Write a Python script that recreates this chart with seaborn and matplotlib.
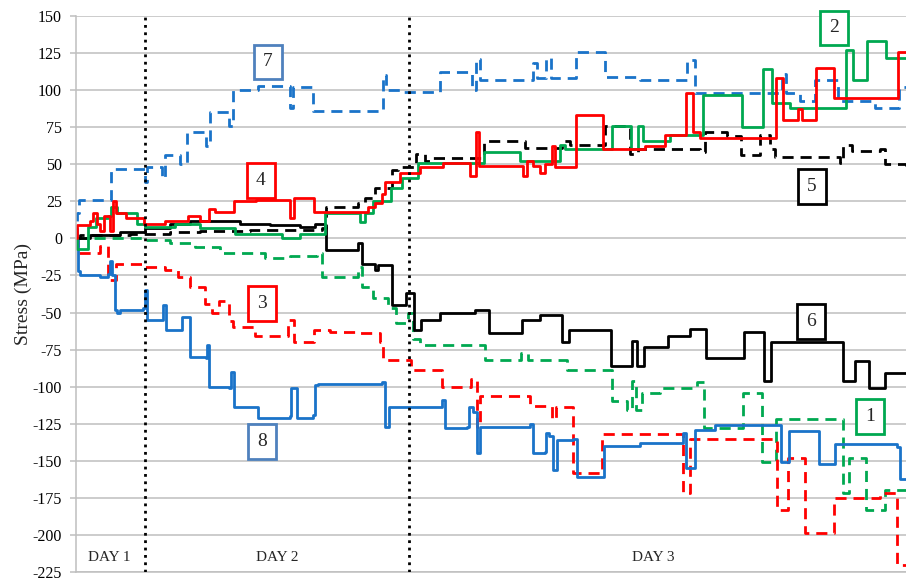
import matplotlib
matplotlib.use("Agg")
import matplotlib.pyplot as plt
import numpy as np
import pandas as pd
import seaborn as sns

# ---------------- data (time in arbitrary elapsed units, stress in MPa) ----------------
t1 = [0, 34, 69, 94, 119, 144, 189, 214, 241, 246, 282, 286, 297, 312, 320, 332, 337, 344, 409, 445,
      452, 491, 536, 551, 556, 560, 566, 584, 621, 628, 667, 686, 700, 767, 773, 790, 809, 830]
s1 = [0, 0, -1, -3, -6, -10, -13, -12, -10, -26, -19, -33, -40, -47, -57, -50, -68, -72, -82, -77,
      -82, -89, -110, -116, -96, -116, -104, -101, -97, -128, -104, -151, -122, -172, -148, -183, -170, -170]

t2 = [0, 1, 12, 20, 32, 35, 41, 61, 69, 99, 124, 159, 206, 224, 249, 284, 289, 297, 315, 326,
      342, 408, 444, 484, 489, 536, 555, 562, 567, 594, 627, 666, 687, 696, 714, 770, 777, 791, 810, 830]
s2 = [0, -7, 8, 14, 15, 21, 17, 10, 8, 10, 7, 3, 0, 3, 17, 11, 17, 25, 34, 41,
      51, 58, 52, 63, 60, 76, 60, 76, 66, 70, 97, 75, 114, 91, 88, 127, 107, 133, 122, 122]

t3 = [0, 2, 24, 32, 40, 67, 89, 102, 114, 129, 136, 143, 153, 157, 179, 212, 218, 238, 254, 279,
      304, 307, 335, 366, 395, 401, 404, 454, 476, 480, 497, 526, 607, 614, 701, 712, 729, 758, 804, 821, 830]
s3 = [0, -10, -5, -28, -17, -19, -21, -26, -33, -44, -50, -42, -56, -60, -66, -55, -70, -62, -63, -64,
      -70, -82, -89, -100, -95, -127, -106, -113, -122, -114, -158, -132, -172, -135, -183, -148, -199, -175, -172, -220, -220]

t4 = [0, 1, 14, 17, 21, 24, 28, 34, 37, 40, 50, 68, 89, 112, 124, 133, 139, 158, 180, 214,
      218, 238, 289, 292, 299, 306, 309, 324, 344, 367, 392, 394, 400, 403, 444, 447, 451, 457, 464, 469,
      476, 479, 498, 500, 527, 569, 589, 610, 617, 624, 700, 707, 722, 726, 740, 758, 822, 830]
s4 = [0, 9, 12, 17, 10, 5, 15, 5, 25, 17, 14, 10, 12, 15, 12, 20, 18, 25, 26, 14,
      27, 18, 18, 21, 24, 30, 38, 44, 48, 51, 51, 42, 72, 49, 49, 42, 52, 49, 44, 50,
      62, 48, 48, 83, 60, 62, 70, 98, 72, 68, 108, 80, 87, 80, 115, 95, 126, 126]

t5 = [0, 4, 54, 94, 124, 174, 246, 250, 282, 289, 299, 316, 322, 340, 349, 354, 408, 449, 486, 494,
      529, 554, 562, 624, 629, 651, 665, 684, 694, 699, 764, 767, 776, 804, 809, 830]
s5 = [0, 2, 3, 4, 5, 6, 7, 21, 24, 27, 34, 46, 48, 57, 52, 54, 66, 61, 66, 63,
      76, 57, 60, 58, 72, 69, 56, 70, 60, 55, 51, 63, 59, 60, 50, 49]

t6 = [0, 14, 44, 69, 94, 114, 139, 164, 194, 224, 239, 249, 250, 282, 286, 299, 302, 316, 330, 338,
      345, 364, 399, 413, 446, 464, 486, 493, 535, 556, 561, 568, 592, 614, 630, 668, 688, 695, 767, 779,
      793, 809, 830]
s6 = [0, 2, 4, 7, 10, 12, 12, 10, 9, 8, 10, 8, -8, -3, -17, -21, -18, -45, -37, -62,
      -55, -50, -48, -64, -55, -52, -70, -62, -86, -69, -86, -73, -66, -61, -81, -63, -96, -70, -96, -83,
      -101, -91, -91]

t7 = [0, 1, 3, 32, 35, 69, 71, 82, 86, 89, 102, 104, 111, 127, 130, 134, 150, 153, 157, 180,
      182, 212, 214, 217, 235, 237, 306, 307, 310, 324, 359, 364, 394, 396, 400, 404, 454, 457, 461, 470,
      475, 497, 500, 526, 529, 564, 609, 611, 617, 619, 704, 706, 710, 724, 739, 759, 762, 796, 799, 821,
      823, 830]
s7 = [0, 17, 26, 26, 47, 38, 48, 48, 41, 56, 56, 50, 72, 72, 62, 85, 85, 76, 100, 100,
      103, 103, 88, 102, 102, 86, 86, 110, 100, 99, 99, 112, 112, 100, 121, 107, 107, 118, 108, 122,
      108, 108, 126, 126, 109, 107, 107, 120, 120, 98, 98, 111, 98, 93, 107, 107, 93, 93, 88, 88,
      102, 102]

t8 = [0, 2, 4, 24, 32, 34, 36, 39, 41, 44, 67, 69, 71, 85, 87, 90, 104, 106, 111, 114,
      130, 131, 133, 153, 155, 158, 179, 182, 214, 215, 218, 221, 237, 239, 242, 306, 309, 313, 366, 369,
      391, 393, 397, 401, 404, 454, 457, 469, 470, 473, 477, 481, 497, 501, 526, 528, 564, 607, 610, 616,
      619, 639, 701, 705, 711, 713, 741, 743, 757, 759, 821, 824, 830]
s8 = [0, -22, -25, -26, -24, -15, -25, -48, -50, -48, -47, -35, -55, -55, -45, -62, -62, -53, -53, -80,
      -81, -72, -100, -101, -90, -114, -114, -121, -120, -101, -101, -121, -119, -99, -98, -97, -127, -114, -109, -128,
      -127, -114, -117, -145, -127, -125, -145, -144, -131, -133, -156, -136, -135, -161, -161, -140, -138, -131, -155, -155,
      -129, -126, -126, -151, -151, -130, -130, -152, -152, -139, -141, -162, -162]

series_names = ["1", "2", "3", "4", "5", "6", "7", "8"]
label_t = [794, 758, 186, 185, 736, 735, 192, 186]
label_s = [-120, 142, -44, 39, 35, -56, 119, -137]

day_bounds = [69, 333]
day_labels = ["DAY 1", "DAY 2", "DAY 3"]
day_label_t = [33, 201, 577]
day_label_s = -215.5

yticks = list(range(-225, 151, 25))

# ---------------- style ----------------
BLUE = "#1A73C9"
RED = "#FF0000"
GREEN = "#00A850"
BLACK = "#000000"
BOXBLUE = "#4F81BD"
DASH = (0, (4, 2.5))

styles = {
    "1": (GREEN, DASH, GREEN),
    "2": (GREEN, "-", GREEN),
    "3": (RED, DASH, RED),
    "4": (RED, "-", RED),
    "5": (BLACK, DASH, BLACK),
    "6": (BLACK, "-", BLACK),
    "7": (BLUE, DASH, BOXBLUE),
    "8": (BLUE, "-", BOXBLUE),
}

sns.set_theme(style="white")
plt.rcParams['font.family'] = ['Liberation Serif', 'DejaVu Serif']

fig = plt.figure(figsize=(9.06, 5.81), dpi=100)
ax = fig.add_axes([76 / 906, 9 / 581, 830 / 906, 556 / 581])

data = {
    "1": (t1, s1), "2": (t2, s2), "3": (t3, s3), "4": (t4, s4),
    "5": (t5, s5), "6": (t6, s6), "7": (t7, s7), "8": (t8, s8),
}

draw_order = ["7", "1", "3", "5", "8", "6", "2", "4"]
for name in draw_order:
    t, s = data[name]
    df = pd.DataFrame({"time": t, "stress": s})
    color, ls, _ = styles[name]
    sns.lineplot(data=df, x="time", y="stress", ax=ax, color=color, linewidth=2.0,
                 linestyle=ls, drawstyle="steps-post", estimator=None, sort=False,
                 legend=False)

for xb in day_bounds:
    ax.axvline(xb, color="black", linestyle=":", linewidth=2.0, zorder=5)

for txt, xt in zip(day_labels, day_label_t):
    ax.text(xt, day_label_s, txt, ha="center", va="center", fontsize=11)

for name, xt, yt in zip(series_names, label_t, label_s):
    ax.text(xt, yt, name, ha="center", va="center", fontsize=14, zorder=6,
            bbox=dict(boxstyle="square,pad=0.45", fc="white", ec=styles[name][2], lw=2))

ax.set_xlim(0, 830)
ax.set_ylim(-225, 150)
ax.set_yticks(yticks)
ax.set_yticklabels([str(v) for v in yticks])
ax.set_xticks([])
ax.set_xlabel("")
ax.set_ylabel("Stress (MPa)", fontsize=14)
ax.yaxis.set_label_coords(-0.053, 0.5)

ax.yaxis.grid(True, color="#BFBFBF", linewidth=1.1)
ax.set_axisbelow(True)
for sp in ["top", "right"]:
    ax.spines[sp].set_visible(False)
for sp in ["left", "bottom"]:
    ax.spines[sp].set_color("#BFBFBF")
    ax.spines[sp].set_linewidth(1.1)
ax.tick_params(axis="y", which="both", left=True, length=4, width=1.1, color="#BFBFBF",
               labelsize=11.5, pad=6, labelcolor="black")

fig.savefig("out.png", dpi=100)
